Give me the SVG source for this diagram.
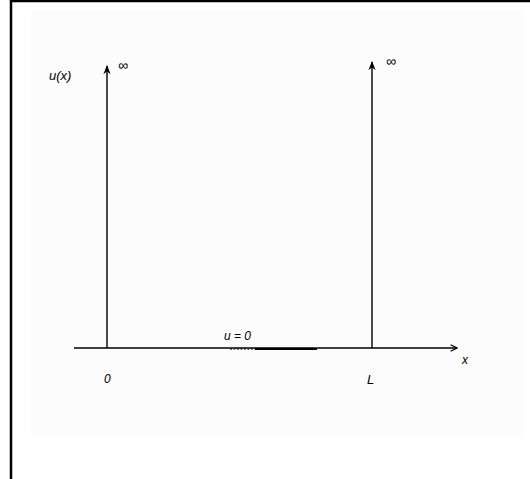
<svg xmlns="http://www.w3.org/2000/svg" width="530" height="479" viewBox="0 0 530 479">
<style>
.ax{stroke:#000;stroke-width:1.4;fill:none}
.lbl{font-family:"Liberation Sans",Arial,sans-serif;fill:#000}
</style>
<defs>
<marker id="ah" viewBox="0 0 10 10" refX="9" refY="5" markerWidth="8" markerHeight="8" orient="auto" markerUnits="userSpaceOnUse">
<path d="M1,1 L9,5 L1,9" fill="none" stroke="#000" stroke-width="1.6"/>
</marker>
<marker id="ahf" viewBox="0 0 10 10" refX="9" refY="5" markerWidth="9" markerHeight="9" orient="auto" markerUnits="userSpaceOnUse">
<path d="M0,1 L10,5 L0,9 L3,5 Z" fill="#000"/>
</marker>
</defs>
<rect x="0" y="0" width="530" height="479" fill="#fff"/>
<path d="M11,479 V1 H530" fill="none" stroke="#000" stroke-width="2.5"/>
<rect x="31" y="10" width="492" height="427" fill="#fcfcfc"/>
<g id="connectors">
<line class="ax" x1="107" y1="348" x2="107" y2="66" marker-end="url(#ahf)"/>
<line class="ax" x1="372" y1="348" x2="372" y2="62" marker-end="url(#ahf)"/>
<line class="ax" x1="74" y1="348" x2="457" y2="348" marker-end="url(#ah)"/>
<line x1="230" y1="349" x2="255" y2="349" stroke="#000" stroke-width="1" stroke-dasharray="2,1.5"/>
<line x1="255" y1="349" x2="317" y2="349" stroke="#000" stroke-width="2.2"/>
</g>
<g id="labels">
<text class="lbl" x="49" y="80" font-size="13" font-style="italic">u(x)</text>
<text class="lbl" x="118" y="70" font-size="14">∞</text>
<text class="lbl" x="386" y="66" font-size="14">∞</text>
<text class="lbl" x="224" y="340" font-size="12" font-style="italic">u = 0</text>
<text class="lbl" x="104" y="383" font-size="12" font-style="italic">0</text>
<text class="lbl" x="367" y="384" font-size="13" font-style="italic">L</text>
<text class="lbl" x="462" y="364" font-size="12" font-style="italic">x</text>
</g>
</svg>
